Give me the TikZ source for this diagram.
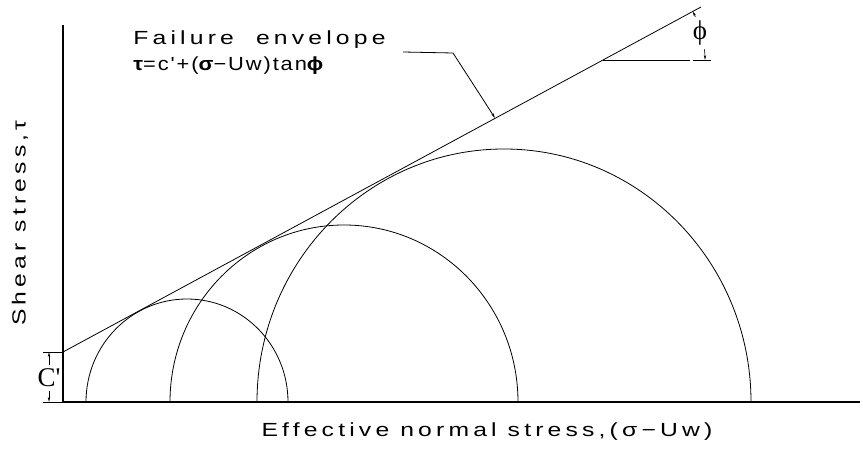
\documentclass[tikz,border=0pt]{standalone}
\usepackage{fontspec}
\newfontfamily\cadfont[FakeStretch=1.3, LetterSpace=22]{Liberation Sans}
\newfontfamily\cadtight[FakeStretch=1.15, LetterSpace=10]{Liberation Sans}
\newfontfamily\timesfont{Liberation Serif}
\usetikzlibrary{arrows.meta}

\tikzset{
  axis/.style={line width=1.6pt},
  dimline/.style={line width=0.6pt},
  cadtext/.style={font=\cadfont\fontsize{19}{21}\selectfont, inner sep=0pt},
  serifsym/.style={font=\timesfont\fontsize{27}{29}\selectfont, inner sep=0pt}
}

\begin{document}
\begin{tikzpicture}[x=1pt, y=-1pt, line width=0.8pt, >={Stealth[length=5pt,width=2.4pt]}]
\useasboundingbox (0,0) rectangle (863,449);

% axes
\coordinate (O) at (63,402);
\coordinate (ytop) at (63,25);
\coordinate (xend) at (860,402);
\draw[axis] (ytop) -- (O) -- (xend);

% failure envelope
\coordinate (c) at (63,352);
\coordinate (etop) at (701,7);
\draw (c) -- (etop);

% Mohr circles
\draw (86,402) arc[start angle=180, end angle=360, x radius=101, y radius=103];
\draw (170,402) arc[start angle=180, end angle=360, x radius=174, y radius=177];
\draw (257,402) arc[start angle=180, end angle=360, x radius=247, y radius=253];

% angle phi
\coordinate (p) at (603,60);
\draw (p) -- (690,60);
\draw[dimline] (693,60) -- (711,60);
\draw[dimline, ->] (p) ++(-6:102) arc[start angle=-6, end angle=0, radius=102];
\draw[dimline, ->] (p) ++(-25:102) arc[start angle=-25, end angle=-28.4, radius=102];
\node[serifsym] (phi) at (700,33) {ϕ};

% cohesion c'
\draw[dimline] (43,352) -- (c);
\draw[dimline] (43,402) -- (O);
\draw[dimline, ->] (49,365) -- (49,352);
\draw[dimline, ->] (49,391) -- (49,402);
\node[serifsym] (cc) at (49,378) {C'};

% labels
\node[cadtext, anchor=base west] (fe) at (133,45) {Failure\ \ envelope};
\node[cadtext, anchor=base west, font=\cadtight\fontsize{19}{21}\selectfont] (eq) at (133,71)
  {{\bfseries τ}=c'+({\bfseries σ}−Uw)tan{\bfseries ϕ}};
\coordinate (l1) at (403,52);
\coordinate (l2) at (453,53);
\coordinate (tip) at (495,118);
\draw[->] (l1) -- (l2) -- (tip);

\node[cadtext, rotate=90] (ylab) at (20,223) {Shear stress,τ};
\node[cadtext] (xlab) at (487,432) {Effective normal stress,(σ−Uw)};
\end{tikzpicture}
\end{document}
